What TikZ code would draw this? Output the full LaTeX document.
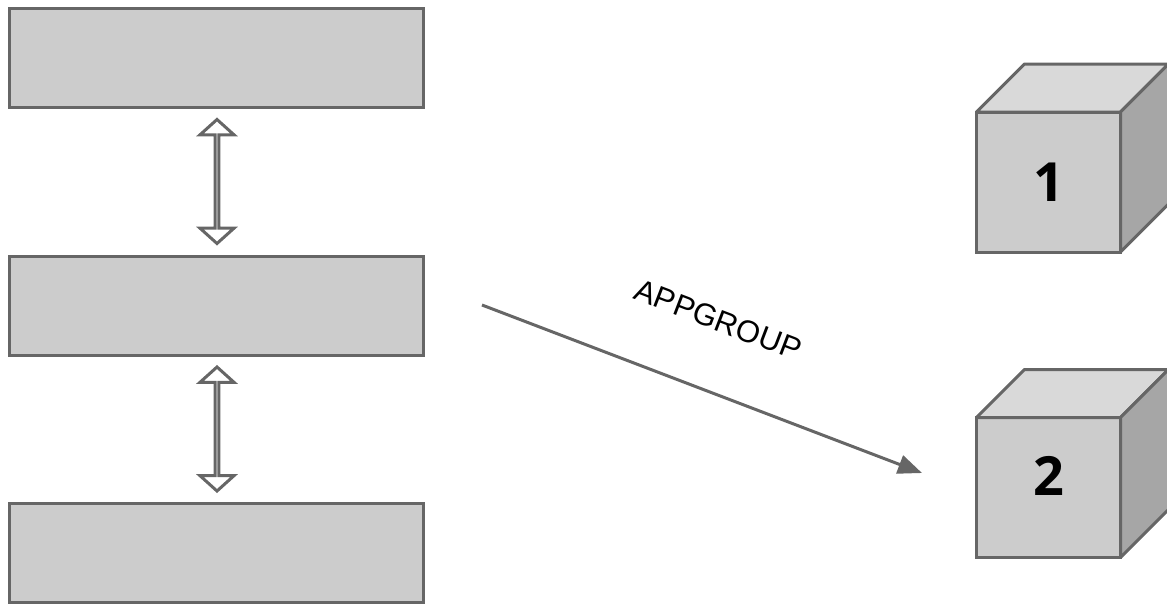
\documentclass[tikz,border=0pt]{standalone}
\usepackage{fontspec}
\usepackage{tikz}
\usetikzlibrary{arrows.meta,shapes.arrows}
\setmainfont{Liberation Sans}
\newfontfamily\cubefont{Open Sans}
\definecolor{TierGrey}{RGB}{204, 204, 204}
\definecolor{TierEdge}{RGB}{102, 102, 102}
\definecolor{CubeTop}{RGB}{217, 217, 217}
\definecolor{CubeSide}{RGB}{166, 166, 166}
\tikzset{
  tierbox/.style={draw=TierEdge, fill=TierGrey, line width=3pt, minimum width=414pt, minimum height=99pt, inner sep=0pt},
  tierlink/.style={double arrow, draw=TierEdge, fill=white, line width=3pt, shape border rotate=90, minimum height=124pt, minimum width=34pt, double arrow head extend=12.5pt, double arrow tip angle=96, inner sep=0pt},
  cubeface/.style={draw=TierEdge, fill=TierGrey, line width=3pt, minimum width=144pt, minimum height=140pt, inner sep=0pt, outer sep=0pt},
  cubenum/.style={font=\cubefont\bfseries\fontsize{54}{54}\selectfont},
}

\begin{document}
\begin{tikzpicture}[x=1pt, y=-1pt]
    \useasboundingbox (0,0) rectangle (1167,605);
    \node[tierbox] (tiertop) at (216.5,58) {};
    \node[tierbox] (tiermid) at (216.5,306) {};
    \node[tierbox] (tierbot) at (216.5,552.5) {};
    \node[tierlink] (linkone) at (217,181.5) {};
    \node[tierlink] (linktwo) at (217,429) {};

    % cubes
    \node[cubeface] (cubeone) at (1048.5,182) {};
    \node[cubeface] (cubetwo) at (1048.5,487.5) {};
    \foreach \c in {cubeone, cubetwo} {
      \draw[TierEdge, fill=CubeTop, line width=3pt, line join=round] (\c.north west) -- ++(48,-48) -- ++(144,0) -- (\c.north east) -- cycle;
      \draw[TierEdge, fill=CubeSide, line width=3pt, line join=round] (\c.north east) -- ++(48,-48) -- ++(0,140) -- (\c.south east) -- cycle;
    }
    \node[cubenum] (numone) at (cubeone) {1};
    \node[cubenum] (numtwo) at ([yshift=12pt]cubetwo) {2};

    \coordinate (appfrom) at (482,305);
    \coordinate (appto) at (922,473);
    \draw[TierEdge, line width=3pt, -{Triangle[length=24pt, width=19pt]}] (appfrom) -- (appto)
      node[sloped, pos=0.48, above=58pt, inner sep=0pt, font=\fontsize{31}{31}\selectfont, text=black] (applabel) {APPGROUP};
  \end{tikzpicture}
\end{document}
